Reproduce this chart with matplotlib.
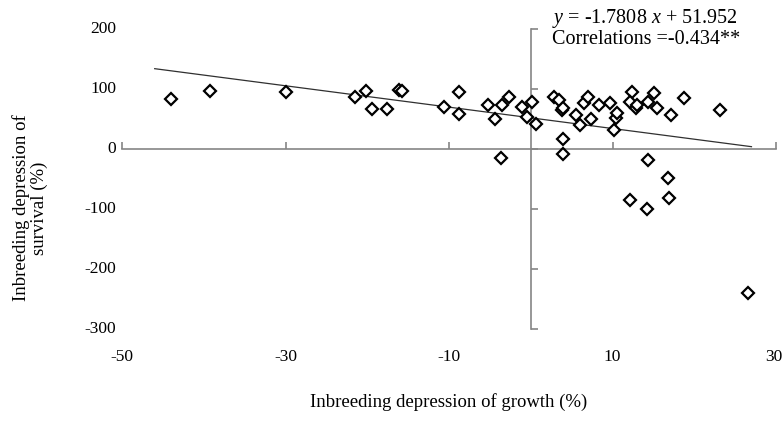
import numpy as np
import matplotlib
matplotlib.use("Agg")
import matplotlib.pyplot as plt
import matplotlib.transforms as mtransforms

plt.rcParams['font.family'] = ['Liberation Serif', 'DejaVu Serif']
plt.rcParams['mathtext.fontset'] = 'custom'
plt.rcParams['mathtext.rm'] = 'Liberation Serif'
plt.rcParams['mathtext.it'] = 'Liberation Serif:italic'

# growth ID (%) vs survival ID (%)
growth = [-44.0, -39.2, -29.9, -21.5, -20.2, -19.4, -17.6, -16.1, -15.7,
          -10.6, -8.8, -8.8, -5.2, -4.4, -3.7, -3.5, -2.7, -1.1, -0.5,
          0.1, 0.6, 2.9, 3.4, 3.8, 4.0, 3.9, 3.9, 5.5, 6.0, 6.5, 7.0,
          7.4, 8.3, 9.7, 10.2, 10.4, 10.6, 12.4, 12.1, 12.9, 13.0, 14.3,
          14.4, 15.1, 15.5, 16.8, 17.1, 18.7, 23.1,
          12.2, 14.2, 16.9, 26.6]
survival = [83.8, 96.0, 95.0, 86.7, 96.0, 66.7, 66.7, 98.0, 96.0,
            70.5, 95.0, 58.3, 72.8, 49.4, -15.6, 73.3, 87.0, 70.5, 53.9,
            78.9, 41.7, 87.0, 81.7, 65.0, 67.8, 16.1, -8.9, 56.7, 40.0, 76.1, 87.0,
            50.0, 73.3, 76.1, 31.7, 51.1, 59.4, 95.5, 78.9, 67.8, 73.3, -18.3,
            78.9, 93.9, 67.8, -48.9, 56.7, 84.4, 65.0,
            -85.0, -100.6, -82.2, -239.4]

slope = -1.7808
intercept = 51.952
trend_range = [-46, 27]

x_ticks = [-50, -30, -10, 10, 30]
y_ticks = [200, 100, 0, -100, -200, -300]

W, H = 783, 423
fig = plt.figure(figsize=(W / 100, H / 100), dpi=100)
ax = fig.add_axes([122 / W, 1 - 329 / H, (776 - 122) / W, (329 - 29) / H])

axis_col = '#858585'
ax.set_xlim(-50, 30)
ax.set_ylim(-300, 200)
ax.spines['left'].set_position(('data', 0))
ax.spines['bottom'].set_position(('data', 0))
ax.spines['top'].set_visible(False)
ax.spines['right'].set_visible(False)
for s in ['left', 'bottom']:
    ax.spines[s].set_color(axis_col)
    ax.spines[s].set_linewidth(1.2)
ax.set_xticks(x_ticks)
ax.set_yticks(y_ticks)
ax.tick_params(direction='in', length=5, width=1.2, color=axis_col,
               labelleft=False, labelbottom=False)

# tick labels sit at the low end of each axis
ytrans = mtransforms.blended_transform_factory(ax.transAxes, ax.transData)
for v in y_ticks:
    ax.text(-0.009, v, str(v), transform=ytrans, ha='right', va='center',
            fontsize=12.5)
xtrans = mtransforms.blended_transform_factory(ax.transData, ax.transAxes)
for v in x_ticks:
    # last label is pulled inside the figure edge, as in the original
    if v == x_ticks[-1]:
        ax.text(v + 0.8, -0.093, str(v), transform=xtrans, ha='right',
                va='center', fontsize=12.5)
    else:
        ax.text(v, -0.093, str(v), transform=xtrans, ha='center',
                va='center', fontsize=12.5)

tx = np.array(trend_range)
ax.plot(tx, slope * tx + intercept, color='#303030', lw=0.9, zorder=2)

ax.plot(growth, survival, linestyle='none', marker='D', markersize=6.5,
        markerfacecolor='white', markeredgecolor='black', markeredgewidth=1.6,
        zorder=3, clip_on=False)

fig.text(552 / W, 1 - 18 / H, r'$y$ = -1.7808 $x$ + 51.952', ha='left',
         va='center', fontsize=14.5)
fig.text(552 / W, 1 - 40 / H, 'Correlations =-0.434**', ha='left',
         va='center', fontsize=14.5)

fig.text(449 / W, 1 - 402 / H, 'Inbreeding depression of growth (%)',
         ha='center', va='center', fontsize=13.5)
fig.text(30 / W, 1 - 208 / H, 'Inbreeding depression of\nsurvival (%)',
         ha='center', va='center', rotation=90, fontsize=13.5,
         linespacing=1.0)

fig.savefig('out.png', dpi=100, facecolor='white')
